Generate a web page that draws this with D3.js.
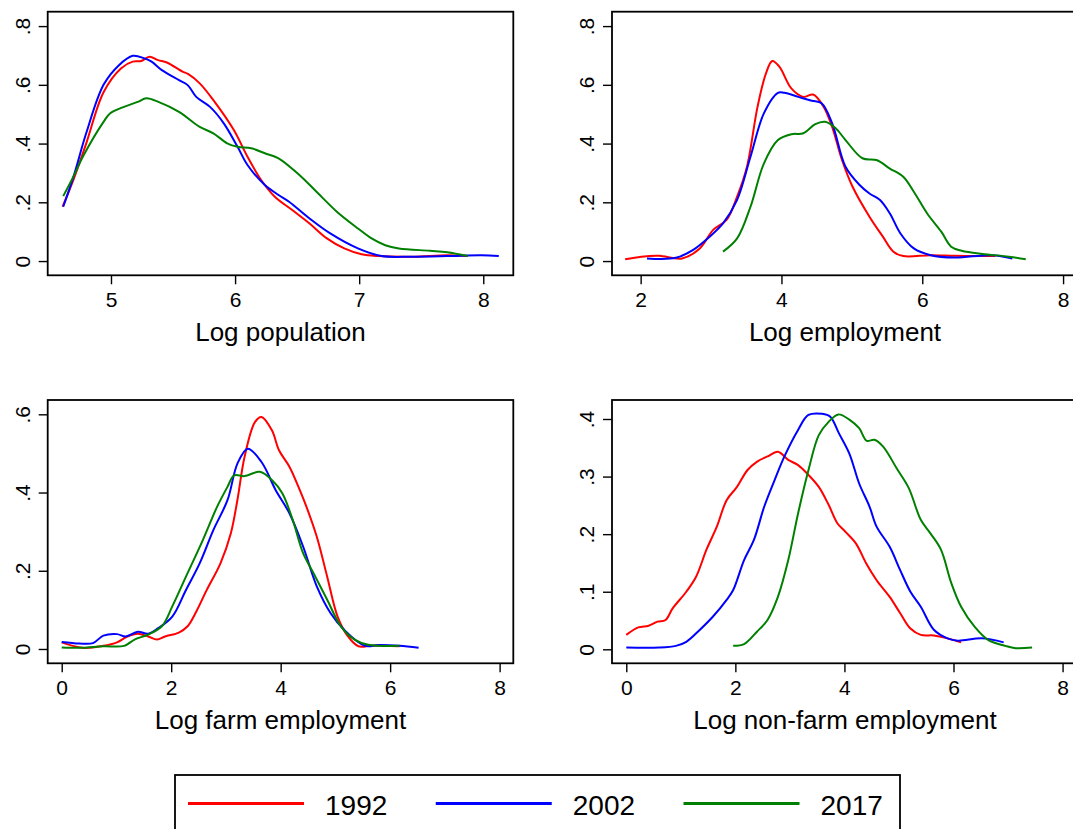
<!DOCTYPE html>
<html>
<head>
<meta charset="utf-8">
<style>
  body { margin: 0; background: #fff; }
  svg { display: block; font-family: "Liberation Sans", Arial, Helvetica, sans-serif; }
  .tick text { fill: #000; }
</style>
</head>
<body>
<svg id="chart" width="1073" height="829"></svg>
<script src="https://cdn.jsdelivr.net/npm/d3@7"></script>
<script>
// series labels and colours
var years = ["1992", "2002", "2017"];
var colors = ["#ff0000", "#0000ff", "#008000"];

// Log population densities, [x, density]
var pop1992 = [[4.61,0.185],[4.70,0.28],[4.80,0.40],[4.94,0.575],[5.08,0.656],[5.175,0.679],[5.244,0.681],[5.31,0.696],[5.38,0.684],[5.45,0.676],[5.576,0.645],[5.62,0.637],[5.715,0.605],[5.825,0.548],[5.99,0.446],[6.10,0.355],[6.21,0.276],[6.32,0.219],[6.46,0.174],[6.60,0.128],[6.74,0.077],[6.88,0.043],[7.02,0.023],[7.155,0.017],[7.43,0.015],[7.71,0.020],[7.875,0.017]];
var pop2002 = [[4.615,0.185],[4.70,0.29],[4.80,0.435],[4.94,0.60],[5.064,0.667],[5.175,0.699],[5.27,0.69],[5.327,0.679],[5.41,0.65],[5.548,0.616],[5.618,0.599],[5.687,0.559],[5.798,0.525],[5.909,0.469],[6.02,0.389],[6.10,0.327],[6.24,0.259],[6.35,0.225],[6.435,0.202],[6.60,0.145],[6.767,0.094],[6.99,0.043],[7.18,0.017],[7.43,0.015],[7.71,0.017],[7.986,0.020],[8.125,0.017]];
var pop2017 = [[4.615,0.221],[4.70,0.29],[4.773,0.355],[4.94,0.474],[4.994,0.503],[5.105,0.525],[5.216,0.542],[5.285,0.554],[5.382,0.542],[5.548,0.508],[5.715,0.457],[5.825,0.435],[5.936,0.401],[6.02,0.389],[6.13,0.384],[6.24,0.367],[6.35,0.350],[6.518,0.293],[6.656,0.236],[6.82,0.168],[6.99,0.111],[7.10,0.077],[7.21,0.054],[7.32,0.043],[7.57,0.035],[7.71,0.030],[7.875,0.017]];

// Log employment
var emp1992 = [[1.78,0.006],[2.01,0.015],[2.26,0.018],[2.59,0.009],[2.84,0.043],[3.03,0.106],[3.22,0.140],[3.37,0.219],[3.51,0.321],[3.66,0.525],[3.78,0.639],[3.87,0.681],[3.97,0.662],[4.14,0.588],[4.31,0.559],[4.45,0.567],[4.60,0.525],[4.72,0.457],[4.86,0.344],[5.01,0.253],[5.25,0.151],[5.44,0.083],[5.59,0.032],[5.73,0.017],[6.12,0.020],[6.46,0.018],[6.85,0.017],[7.04,0.017]];
var emp2002 = [[2.09,0.009],[2.50,0.011],[2.74,0.037],[2.98,0.083],[3.17,0.128],[3.37,0.208],[3.56,0.355],[3.75,0.503],[3.95,0.573],[4.04,0.573],[4.24,0.559],[4.43,0.546],[4.57,0.537],[4.72,0.469],[4.91,0.321],[5.11,0.259],[5.25,0.230],[5.40,0.208],[5.54,0.162],[5.69,0.094],[5.88,0.043],[6.12,0.020],[6.46,0.012],[6.99,0.020],[7.28,0.009]];
var emp2017 = [[3.17,0.032],[3.37,0.077],[3.56,0.185],[3.75,0.332],[3.95,0.412],[4.14,0.432],[4.31,0.435],[4.48,0.466],[4.62,0.474],[4.77,0.452],[4.91,0.412],[5.15,0.350],[5.35,0.344],[5.54,0.315],[5.73,0.287],[5.88,0.236],[6.07,0.162],[6.27,0.100],[6.41,0.049],[6.56,0.035],[6.85,0.024],[7.23,0.015],[7.47,0.006]];

// Log farm employment
var farm1992 = [[0,0.017],[0.38,0.003],[0.76,0.008],[1.01,0.017],[1.20,0.032],[1.39,0.039],[1.58,0.032],[1.74,0.024],[1.89,0.032],[2.14,0.042],[2.30,0.058],[2.46,0.096],[2.65,0.151],[2.90,0.219],[3.09,0.296],[3.21,0.381],[3.34,0.491],[3.53,0.580],[3.65,0.593],[3.84,0.559],[3.97,0.508],[4.16,0.466],[4.35,0.406],[4.47,0.364],[4.66,0.287],[4.85,0.185],[5.04,0.083],[5.23,0.032],[5.42,0.007],[5.67,0.009],[6.17,0.007]];
var farm2002 = [[0,0.018],[0.32,0.014],[0.57,0.015],[0.76,0.034],[1.01,0.038],[1.17,0.032],[1.39,0.044],[1.58,0.039],[1.77,0.054],[2.02,0.083],[2.27,0.151],[2.52,0.219],[2.77,0.304],[3.03,0.381],[3.21,0.474],[3.40,0.512],[3.65,0.478],[3.91,0.406],[4.16,0.347],[4.41,0.262],[4.66,0.160],[4.91,0.092],[5.16,0.049],[5.54,0.008],[5.79,0.010],[6.17,0.008],[6.52,0.003]];
var farm2017 = [[0,0.004],[0.38,0.003],[0.76,0.007],[1.14,0.008],[1.33,0.024],[1.58,0.037],[1.83,0.058],[2.02,0.109],[2.27,0.185],[2.58,0.279],[2.84,0.364],[3.03,0.415],[3.15,0.444],[3.34,0.442],[3.62,0.453],[3.84,0.432],[4.03,0.398],[4.22,0.330],[4.41,0.245],[4.60,0.194],[4.85,0.126],[5.10,0.058],[5.35,0.024],[5.60,0.011],[6.17,0.008]];

// Log non-farm employment
var nonfarm1992 = [[0,0.025],[0.22,0.038],[0.41,0.041],[0.57,0.048],[0.72,0.051],[0.85,0.071],[1.10,0.100],[1.28,0.126],[1.47,0.173],[1.66,0.213],[1.84,0.259],[2.03,0.282],[2.22,0.311],[2.40,0.326],[2.59,0.335],[2.78,0.343],[2.97,0.329],[3.15,0.320],[3.34,0.303],[3.53,0.282],[3.71,0.251],[3.87,0.219],[4.02,0.204],[4.21,0.184],[4.40,0.149],[4.59,0.120],[4.83,0.091],[5.02,0.063],[5.21,0.036],[5.40,0.025],[5.64,0.024],[5.89,0.019],[6.14,0.012]];
var nonfarm2002 = [[0,0.003],[0.60,0.003],[0.91,0.006],[1.10,0.013],[1.35,0.034],[1.59,0.057],[1.84,0.086],[1.96,0.103],[2.16,0.155],[2.34,0.190],[2.53,0.248],[2.72,0.294],[2.90,0.335],[3.15,0.381],[3.34,0.407],[3.59,0.409],[3.74,0.404],[3.90,0.375],[4.09,0.340],[4.27,0.288],[4.46,0.248],[4.59,0.213],[4.83,0.178],[5.02,0.138],[5.21,0.100],[5.40,0.074],[5.64,0.034],[5.89,0.019],[6.08,0.015],[6.52,0.019],[6.92,0.012]];
var nonfarm2017 = [[1.96,0.006],[2.16,0.009],[2.40,0.031],[2.59,0.051],[2.78,0.091],[2.97,0.155],[3.15,0.236],[3.34,0.311],[3.53,0.372],[3.71,0.395],[3.89,0.408],[4.09,0.399],[4.27,0.384],[4.41,0.362],[4.55,0.364],[4.71,0.352],[4.96,0.314],[5.18,0.280],[5.40,0.225],[5.58,0.201],[5.77,0.173],[5.96,0.115],[6.14,0.074],[6.39,0.039],[6.64,0.016],[6.95,0.006],[7.14,0.002],[7.44,0.003]];

var svg = d3.select("#chart");

function drawPanel(p) {
    var x = d3.scaleLinear().domain(p.xDomain).range([p.left, p.right]);
    var y = d3.scaleLinear().domain(p.yDomain).range([p.bottom, p.top]);
    var g = svg.append("g");

    // y axis, labels turned to read upward
    var ya = g.append("g")
        .attr("transform", "translate(" + p.left + ",0)")
        .call(d3.axisLeft(y).tickValues(p.yTicks).tickSize(9).tickFormat(function(d, i) { return p.yLabels[i]; }));
    ya.select(".domain").remove();
    ya.selectAll(".tick line").attr("stroke", "#000").attr("stroke-width", 1.4);
    ya.selectAll(".tick text")
        .attr("transform", "rotate(-90)")
        .attr("x", 0).attr("y", -18).attr("dy", 0)
        .attr("text-anchor", "middle")
        .style("font-size", "21px");

    // x axis
    var xa = g.append("g")
        .attr("transform", "translate(0," + p.bottom + ")")
        .call(d3.axisBottom(x).tickValues(p.xTicks).tickSize(9).tickPadding(8).tickFormat(d3.format("d")));
    xa.select(".domain").remove();
    xa.selectAll(".tick line").attr("stroke", "#000").attr("stroke-width", 1.4);
    xa.selectAll(".tick text").style("font-size", "21px");

    // frame
    g.append("rect")
        .attr("x", p.left).attr("y", p.top)
        .attr("width", p.right - p.left).attr("height", p.bottom - p.top)
        .attr("fill", "none").attr("stroke", "#000").attr("stroke-width", 1.8);

    // density curves
    var line = d3.line()
        .x(function(d) { return x(d[0]); })
        .y(function(d) { return y(d[1]); })
        .curve(d3.curveCatmullRom.alpha(0.5));

    p.series.forEach(function(s, i) {
        g.append("path")
            .datum(s)
            .attr("fill", "none")
            .attr("stroke", colors[i])
            .attr("stroke-width", 2)
            .attr("stroke-linejoin", "round")
            .attr("d", line);
    });

    g.append("text")
        .attr("x", (p.left + p.right) / 2)
        .attr("y", p.bottom + 66)
        .attr("text-anchor", "middle")
        .style("font-size", "26px")
        .text(p.title);
}

drawPanel({
    title: "Log population",
    left: 47.7, right: 513.3, top: 11.7, bottom: 275.3,
    xDomain: [4.49, 8.242], yDomain: [-0.0485, 0.849],
    xTicks: [5, 6, 7, 8], yTicks: [0, 0.2, 0.4, 0.6, 0.8], yLabels: ["0", ".2", ".4", ".6", ".8"],
    series: [pop1992, pop2002, pop2017]
});

drawPanel({
    title: "Log employment",
    left: 612, right: 1078, top: 11.7, bottom: 275.3,
    xDomain: [1.593, 8.212], yDomain: [-0.0485, 0.849],
    xTicks: [2, 4, 6, 8], yTicks: [0, 0.2, 0.4, 0.6, 0.8], yLabels: ["0", ".2", ".4", ".6", ".8"],
    series: [emp1992, emp2002, emp2017]
});

drawPanel({
    title: "Log farm employment",
    left: 47.7, right: 513.3, top: 400, bottom: 663.3,
    xDomain: [-0.256, 8.25], yDomain: [-0.0366, 0.6366],
    xTicks: [0, 2, 4, 6, 8], yTicks: [0, 0.2, 0.4, 0.6], yLabels: ["0", ".2", ".4", ".6"],
    series: [farm1992, farm2002, farm2017]
});

drawPanel({
    title: "Log non-farm employment",
    left: 612, right: 1078, top: 400, bottom: 663.3,
    xDomain: [-0.262, 8.283], yDomain: [-0.0243, 0.433],
    xTicks: [0, 2, 4, 6, 8], yTicks: [0, 0.1, 0.2, 0.3, 0.4], yLabels: ["0", ".1", ".2", ".3", ".4"],
    series: [nonfarm1992, nonfarm2002, nonfarm2017]
});

// legend
var legendX = d3.scalePoint().domain(years).range([188, 683.5]);
var legend = svg.append("g");
legend.append("rect")
    .attr("x", 175).attr("y", 775)
    .attr("width", 725).attr("height", 70)
    .attr("fill", "#fff").attr("stroke", "#000").attr("stroke-width", 1.8);

var item = legend.selectAll(".item")
    .data(years)
  .enter().append("g")
    .attr("class", "item")
    .attr("transform", function(d) { return "translate(" + legendX(d) + ",803.5)"; });

item.append("line")
    .attr("x1", 0).attr("x2", 116)
    .attr("stroke", function(d, i) { return colors[i]; })
    .attr("stroke-width", 3);

item.append("text")
    .attr("x", 137).attr("y", 11.5)
    .style("font-size", "28px")
    .text(function(d) { return d; });
</script>
</body>
</html>
